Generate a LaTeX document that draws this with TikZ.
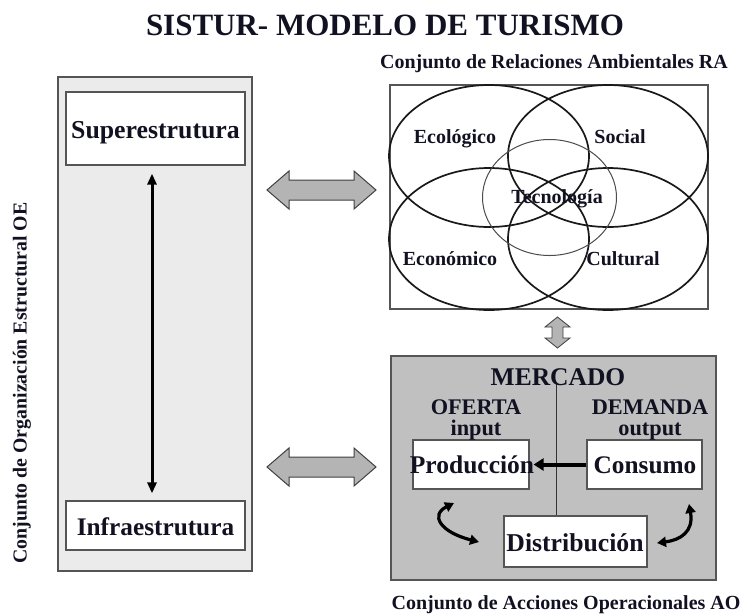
\documentclass[tikz,border=0pt]{standalone}
\usepackage{fontspec}
\setmainfont{Liberation Serif}
\usetikzlibrary{arrows.meta}
\definecolor{lightbg}{HTML}{EBEBEB}
\definecolor{midbg}{HTML}{C0C0C0}
\definecolor{fatfill}{HTML}{B4B4B4}
\definecolor{edgegray}{HTML}{555555}
\definecolor{txtcol}{HTML}{111122}
\tikzset{
  fs/.style={font=\bfseries\fontsize{#1}{#1}\selectfont, text=txtcol, inner sep=0pt},
  pair/.style={font=\bfseries\fontsize{22.3}{20.5}\selectfont, text=txtcol, inner sep=0pt, align=center},
  panel/.style={draw=edgegray, line width=1.2pt, inner sep=0pt},
  wbox/.style={draw=edgegray, line width=1.2pt, fill=white, inner sep=0pt},
  venn/.style={line width=1.7pt, draw=black!90},
  tecno/.style={line width=1pt, draw=black!70},
  fatarrow/.style={draw=black!75, line width=1pt, fill=fatfill, line join=miter},
  dblarrow/.style={line width=3pt, {Triangle[length=11pt,width=9pt]}-{Triangle[length=11pt,width=9pt]}},
  solidarrow/.style={line width=4pt, -{Triangle[length=10pt,width=12pt]}},
  curvearrow/.style={line width=3.2pt, {Triangle[length=9pt,width=10pt]}-{Triangle[length=9pt,width=10pt]}},
  thinline/.style={line width=1pt, draw=black!80}
}
\begin{document}
\begin{tikzpicture}[x=1pt,y=-1pt]
\useasboundingbox (0,0) rectangle (750,614);

% title
\node[fs=31, anchor=base] (title) at (385,35) {SISTUR- MODELO DE TURISMO};

% left panel OE
\node[panel, fill=lightbg, minimum width=194pt, minimum height=494pt] (OE) at (155,324) {};
\node[wbox, minimum width=179pt, minimum height=73pt] (sup) at (155.5,128.5) {};
\node[fs=25.8, anchor=base] (suptxt) at (155.5,138) {Superestrutura};
\node[wbox, minimum width=179pt, minimum height=49pt] (inf) at (155.5,525.5) {};
\node[fs=25.3, anchor=base] (inftxt) at (155.5,535) {Infraestrutura};
\draw[dblarrow, shorten <=8pt, shorten >=7pt] ([xshift=-3.5pt]sup.south) -- ([xshift=-3.5pt]inf.north);
\node[fs=19.8, rotate=90] (oelab) at (22,383) {Conjunto de Organización Estructural OE};

% RA panel
\node[fs=20, anchor=base] (ralab) at (554,68) {Conjunto de Relaciones Ambientales RA};
\node[panel, fill=white, minimum width=318pt, minimum height=224pt] (RA) at (549,197) {};
\draw[venn] (489,156) ellipse [x radius=100, y radius=71];
\draw[venn] (608,156) ellipse [x radius=100, y radius=71];
\draw[venn] (489,239) ellipse [x radius=100, y radius=71];
\draw[venn] (608,239) ellipse [x radius=100, y radius=71];
\draw[tecno] (549.5,197.5) ellipse [x radius=67, y radius=58];
\node[fs=20, anchor=base] (eco) at (455,143) {Ecológico};
\node[fs=20, anchor=base] (soc) at (620,143) {Social};
\node[fs=20, anchor=base] (tec) at (557,203) {Tecnología};
\node[fs=20, anchor=base] (econ) at (450,265) {Económico};
\node[fs=20, anchor=base] (cult) at (623,265) {Cultural};

% AO panel
\node[panel, fill=midbg, minimum width=325pt, minimum height=224pt] (AO) at (553.5,468) {};
\node[fs=20, anchor=base] (aolab) at (566,609) {Conjunto de Acciones Operacionales AO};
\node[wbox, minimum width=116pt, minimum height=49pt] (prod) at (471,464.5) {};
\node[wbox, minimum width=115pt, minimum height=49pt] (cons) at (644.5,464.5) {};
\node[wbox, minimum width=143pt, minimum height=51pt] (dist) at (575.5,541.5) {};
\coordinate (mtop) at (556,383);
\draw[thinline] (mtop) -- (mtop |- dist.north);
\node[fs=25.5, anchor=base] (merc) at (558,385) {MERCADO};
\node[pair, anchor=base] (of) at (476,435) {OFERTA\\input};
\node[pair, anchor=base] (dem) at (650,435) {DEMANDA\\output};
\node[fs=25.5, anchor=base] (prodtxt) at (472,473) {Producción};
\node[fs=25.3, anchor=base] (constxt) at (645,473) {Consumo};
\node[fs=25.7, anchor=base] (disttxt) at (575,551) {Distribución};
\draw[solidarrow] (cons.west) -- ([xshift=4pt]prod.east);

% curved arrows
\coordinate (la) at (454,503);
\coordinate (lb) at (479,542);
\draw[curvearrow] (la) .. controls (430,515) and (440,532) .. (lb);
\coordinate (ra) at (689,504);
\coordinate (rb) at (657,543);
\draw[curvearrow] (ra) .. controls (694,532) and (680,540) .. (rb);

% fat double arrows between panels
\coordinate (f1) at (267,190);
\draw[fatarrow] (f1) -- ++(22,-19) -- ++(0,9) -- ++(65,0) -- ++(0,-9) -- ++(22,19)
  -- ++(-22,19) -- ++(0,-9) -- ++(-65,0) -- ++(0,9) -- cycle;
\coordinate (f2) at (267,467);
\draw[fatarrow] (f2) -- ++(22,-19) -- ++(0,9) -- ++(65,0) -- ++(0,-9) -- ++(22,19)
  -- ++(-22,19) -- ++(0,-9) -- ++(-65,0) -- ++(0,9) -- cycle;
% small vertical double arrow between RA and AO
\coordinate (f3) at (557.5,317);
\draw[fatarrow, line width=0.8pt] (f3) -- ++(12.5,10) -- ++(-7,0) -- ++(0,11) -- ++(7,0) -- ++(-12.5,10)
  -- ++(-12.5,-10) -- ++(7,0) -- ++(0,-11) -- ++(-7,0) -- cycle;
\end{tikzpicture}
\end{document}
